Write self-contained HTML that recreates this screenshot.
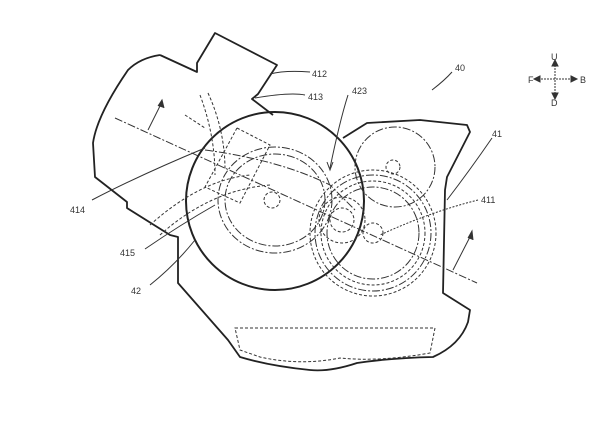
<!DOCTYPE html>
<html><head><style>
html,body{margin:0;padding:0;background:#fff;}
svg{display:block}
text{font-family:"Liberation Sans",sans-serif;font-size:9px;fill:#333}
</style></head><body>
<svg width="600" height="423" viewBox="0 0 600 423" xmlns="http://www.w3.org/2000/svg">
<rect width="600" height="423" fill="#fff"/>
<g fill="none" stroke="#222" stroke-width="1.8" stroke-linejoin="round">
<!-- outer housing -->
<path d="M160,55 L197,72 L197,63 L215,33 L277,65 L258,94 L252,99 L273,115"/>
<path d="M343,138 L367,123 L420,120 L467,125 L470,132 L447,177 L445,190 L443,293 L470,310 L468,322 Q460,345 433,357 Q390,358 357,363 Q330,372 310,370 Q270,366 240,357 L228,340 L178,283 L178,237 L170,235 L127,208 L127,202 L95,177 L93,143 Q97,115 128,70 Q140,58 160,55"/>
<!-- big circle -->
<circle cx="275" cy="201" r="89" stroke-width="2"/>
</g>
<g fill="none" stroke="#333" stroke-width="1" stroke-dasharray="3,2">
<path d="M235,328 L435,328 L430,353 Q380,362 340,358 Q300,366 260,357 L240,350 Z"/>
<polygon points="237,128 270,145 240,203 205,187"/>
<circle cx="272" cy="200" r="8"/>
<circle cx="393" cy="167" r="7"/>
<circle cx="373" cy="233" r="10"/>
<circle cx="373" cy="233" r="63"/>
<circle cx="373" cy="233" r="52"/>
<circle cx="342" cy="220" r="23"/>
<circle cx="342" cy="220" r="12"/>
<path d="M200,95 Q215,135 215,175"/><path d="M208,93 Q225,130 225,170"/>
<path d="M150,225 Q200,180 250,175"/><path d="M160,235 Q210,190 270,185"/>
<path d="M185,115 L205,128"/>
</g>
<g fill="none" stroke="#333" stroke-width="1" stroke-dasharray="8,2,2,2">
<ellipse cx="275" cy="200" rx="57" ry="53"/>
<ellipse cx="275" cy="200" rx="50" ry="46"/>
<circle cx="395" cy="167" r="40"/>
<circle cx="373" cy="233" r="58"/>
<circle cx="373" cy="233" r="46"/>
<line x1="115" y1="118" x2="477" y2="283"/>
<path d="M205,150 Q280,160 330,185 L355,210"/>
</g>
<g fill="none" stroke="#333" stroke-width="1">
<path d="M148,130 L162,102"/><path d="M158,106 L162,100 L164,108" fill="#333"/>
<path d="M453,270 L472,233"/><path d="M468,238 L472,231 L473,240" fill="#333"/>
<path d="M270,74 Q285,70 310,72"/>
<path d="M255,98 Q290,92 305,95"/>
<path d="M348,95 Q340,120 330,168"/><path d="M327,162 L330,170 L333,162"/>
<path d="M452,72 Q445,80 432,90"/>
<path d="M492,138 Q470,170 447,200"/>
<path d="M478,200 Q430,212 380,235" stroke-dasharray="2,1.5"/>
<path d="M92,200 Q140,175 205,148"/>
<path d="M145,249 Q180,225 215,205"/>
<path d="M150,285 Q175,265 195,240"/>
<path d="M555,62 L555,98 M535,79 L576,79" stroke-dasharray="2,1"/>
<path d="M552,66 L555,60 L558,66Z M552,93 L555,99 L558,93Z M540,76 L534,79 L540,82Z M571,76 L577,79 L571,82Z" fill="#333"/>
</g>
<text x="312" y="77">412</text>
<text x="308" y="100">413</text>
<text x="352" y="94">423</text>
<text x="455" y="71">40</text>
<text x="492" y="137">41</text>
<text x="481" y="203">411</text>
<text x="70" y="213">414</text>
<text x="120" y="256">415</text>
<text x="131" y="294">42</text>
<text x="551" y="60">U</text>
<text x="551" y="106">D</text>
<text x="528" y="83">F</text>
<text x="580" y="83">B</text>
</svg>
</body></html>
